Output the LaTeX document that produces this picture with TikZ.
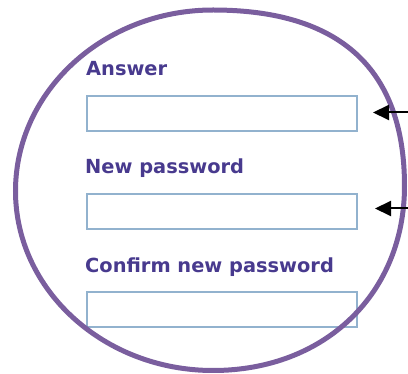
\documentclass[tikz,border=0pt]{standalone}
\usepackage{fontspec}
\setmainfont{DejaVu Sans}
\usetikzlibrary{arrows.meta}
\definecolor{ringpurple}{RGB}{122,94,158}
\definecolor{labelink}{RGB}{72,58,142}
\definecolor{fieldedge}{RGB}{146,178,206}
\begin{document}
\begin{tikzpicture}[x=1pt,y=-1pt,
  formlabel/.style={anchor=base west, inner sep=0pt, text=labelink,
    font=\fontsize{19.4}{22}\selectfont\bfseries},
  field/.style={draw=fieldedge, line width=2pt, fill=white,
    minimum width=270pt, minimum height=35pt, inner sep=0pt},
  pointer/.style={draw=black, line width=2pt,
    -{Triangle[length=16pt,width=15pt]}},
  ring/.style={draw=ringpurple, line width=5pt}]
\useasboundingbox (0,0) rectangle (408,374);

% input fields and their captions
\node[formlabel] (lanswer)  at (86,76)    {Answer};
\node[field]     (box1)     at (222,113.5) {};
\node[formlabel] (lnew)     at (85,173.5) {New password};
\node[field]     (box2)     at (222,211.5) {};
\node[formlabel] (lconfirm) at (85,272.5) {Confirm new password};
\node[field]     (box3)     at (222,309.5) {};

% the hand-drawn highlighting ring: four quarter arcs, fuller at the upper right
\coordinate (rtop)    at (213,10);
\coordinate (rright)  at (404.5,186);
\coordinate (rbottom) at (213,370.5);
\coordinate (rleft)   at (15.5,191);
\path[ring]
  (rtop)    .. controls (340.2,10)    and (404.5,69.1)  .. (rright)
            .. controls (404.5,293.7) and (324.8,370.5) .. (rbottom)
            .. controls (104,370.5)   and (15.5,290.1)  .. (rleft)
            .. controls (15.5,91.1)   and (104,10)      .. (rtop) -- cycle;

% pointers coming in from the right
\coordinate (r1) at (410,112.5);
\coordinate (r2) at (410,208.5);
\draw[pointer, shorten >=15pt] (r1) -- (r1 -| box1.east);
\draw[pointer, shorten >=17pt] (r2) -- (r2 -| box2.east);
\end{tikzpicture}
\end{document}
